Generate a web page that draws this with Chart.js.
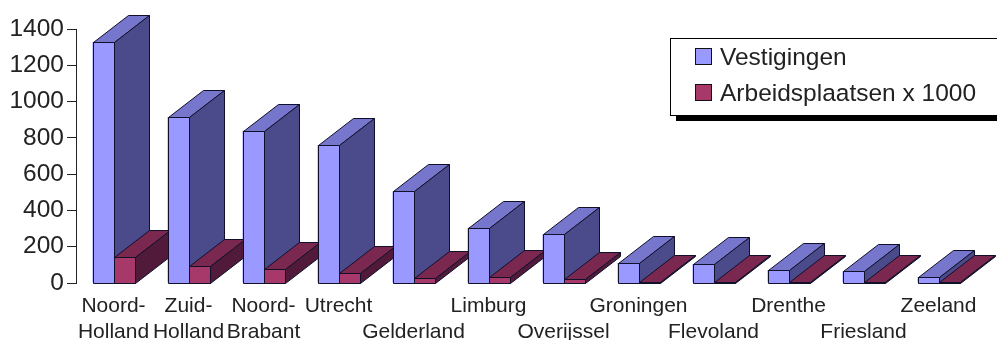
<!DOCTYPE html>
<html>
<head>
<meta charset="utf-8">
<script src="https://cdn.jsdelivr.net/npm/chart.js@4"></script>
<style>
  body { margin: 0; background: #fff; }
  #wrap { width: 997px; height: 340px; }
</style>
</head>
<body>
<div id="wrap"><canvas id="chart" width="997" height="340"></canvas></div>
<script>
'use strict';

// provinces, labels split over two rows so they don't collide
let provinces = [
  ['Noord-', 'Holland'], ['Zuid-', 'Holland'], ['Noord-', 'Brabant'], 'Utrecht',
  ['', 'Gelderland'], 'Limburg', ['', 'Overijssel'], 'Groningen',
  ['', 'Flevoland'], 'Drenthe', ['', 'Friesland'], 'Zeeland'
];
let vestigingen = [1330, 915, 840, 760, 505, 305, 268, 110, 105, 73, 64, 33];
let arbeidsplaatsen = [143, 95, 75, 53, 30, 34, 20, 5, 4, 4, 4, 3];
let yTicks = [0, 200, 400, 600, 800, 1000, 1200, 1400];

let FONT = "'Liberation Sans', Arial, sans-serif";

// shades for the front, top and side of each series' blocks
let shades = [
  { front: '#9999ff', top: '#7676cc', side: '#4b4b8c' },
  { front: '#a6386a', top: '#7a2850', side: '#521a3a' }
];
let depthX = 35;
let depthY = -27;

function poly(ctx, pts, fill) {
  ctx.beginPath();
  ctx.moveTo(pts[0][0], pts[0][1]);
  for (let k = 1; k < pts.length; k++) ctx.lineTo(pts[k][0], pts[k][1]);
  ctx.closePath();
  ctx.fillStyle = fill;
  ctx.fill();
  ctx.stroke();
}

// turns the flat bars into blocks, one category at a time so
// the second series sits in front of the first one's side face
let blocks3d = {
  id: 'blocks3d',
  afterDatasetsDraw(chart) {
    let ctx = chart.ctx;
    let metas = chart.data.datasets.map((d, i) => chart.getDatasetMeta(i));
    ctx.save();
    ctx.lineWidth = 1;
    ctx.strokeStyle = '#10102a';
    ctx.lineJoin = 'miter';
    for (let i = 0; i < provinces.length; i++) {
      metas.forEach((meta, s) => {
        let bar = meta.data[i];
        let l = Math.round(bar.x - bar.width / 2) + 0.5;
        let r = Math.round(bar.x + bar.width / 2) + 0.5;
        let t = Math.round(bar.y) + 0.5;
        let b = Math.round(bar.base) + 0.5;
        let c = shades[s];
        poly(ctx, [[l, t], [r, t], [r, b], [l, b]], c.front);
        poly(ctx, [[l, t], [r, t], [r + depthX, t + depthY], [l + depthX, t + depthY]], c.top);
        poly(ctx, [[r, t], [r + depthX, t + depthY], [r + depthX, b + depthY], [r, b]], c.side);
      });
    }
    ctx.restore();
  }
};

// boxed legend with a heavy drop shadow, top right
let boxLegend = {
  id: 'boxLegend',
  afterDraw(chart) {
    let ctx = chart.ctx;
    let left = chart.width - 327;
    let top = 38;
    let w = 340, h = 77;
    ctx.save();
    ctx.fillStyle = '#000';
    ctx.fillRect(left + 6, top + 6, w, h);
    ctx.fillStyle = '#fff';
    ctx.fillRect(left, top, w, h);
    ctx.strokeStyle = '#000';
    ctx.lineWidth = 1;
    ctx.strokeRect(left + 0.5, top + 0.5, w, h);
    ctx.font = '24.5px ' + FONT;
    ctx.textBaseline = 'middle';
    chart.data.datasets.forEach((ds, i) => {
      let cy = top + 19 + i * 36;
      ctx.fillStyle = ds.backgroundColor;
      ctx.fillRect(left + 25.5, cy - 8.5, 16, 16);
      ctx.strokeStyle = '#111';
      ctx.strokeRect(left + 25.5, cy - 8.5, 16, 16);
      ctx.fillStyle = '#222';
      ctx.fillText(ds.label, left + 50, cy + 1);
    });
    ctx.restore();
  }
};

let canvasElem = document.getElementById('chart');

function renderChart() {
  let data = {
    labels: provinces,
    datasets: [
      {
        label: 'Vestigingen',
        data: vestigingen,
        backgroundColor: shades[0].front,
        categoryPercentage: 0.56,
        barPercentage: 1.0
      },
      {
        label: 'Arbeidsplaatsen x 1000',
        data: arbeidsplaatsen,
        backgroundColor: shades[1].front,
        categoryPercentage: 0.56,
        barPercentage: 1.0
      }
    ]
  };
  let options = {
    responsive: false,
    animation: false,
    layout: { padding: { top: 29, left: 0, right: 21, bottom: 0 } },
    plugins: {
      legend: { display: false },
      tooltip: { enabled: false }
    },
    scales: {
      x: {
        offset: true,
        grid: { display: false },
        border: { display: false },
        ticks: {
          autoSkip: false,
          maxRotation: 0,
          padding: 2,
          color: '#222',
          font: { family: FONT, size: 21, lineHeight: 1.25 }
        },
        afterFit: scale => { scale.height = 57; }
      },
      y: {
        min: 0,
        max: 1400,
        afterBuildTicks: scale => { scale.ticks = yTicks.map(v => ({ value: v })); },
        grid: { drawOnChartArea: false, tickLength: 9, color: '#222' },
        border: { color: '#222', width: 1 },
        ticks: {
          padding: 3,
          color: '#222',
          font: { family: FONT, size: 24.5 },
          callback: value => String(value)
        },
        afterFit: scale => { scale.width = 76; }
      }
    }
  };

  let ctx = canvasElem.getContext('2d');
  new Chart(ctx, {
    type: 'bar',
    data: data,
    options: options,
    plugins: [blocks3d, boxLegend]
  });
}

renderChart();
</script>
</body>
</html>
